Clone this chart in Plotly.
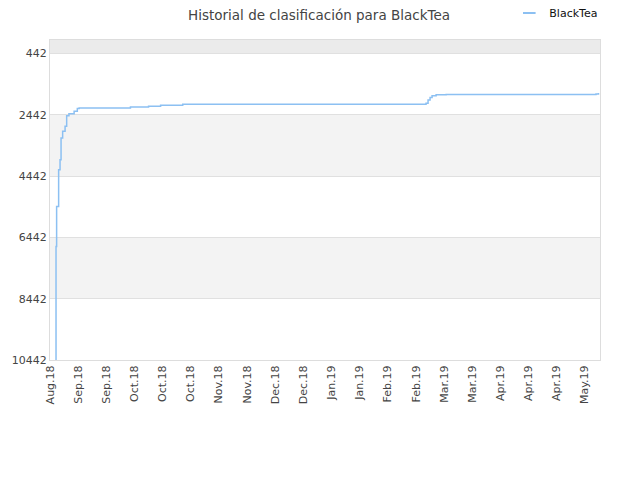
import plotly.graph_objects as go

# ---- data ----
dates = [
    "2018-08-22 22:00", "2018-08-23 00:00", "2018-08-23 07:00", "2018-08-24 07:00",
    "2018-08-25 00:00", "2018-08-25 12:00", "2018-08-26 07:00", "2018-08-27 12:00",
    "2018-08-28 07:00", "2018-08-29 10:00", "2018-09-01 00:00", "2018-09-02 14:00",
    "2018-09-03 12:00", "2018-09-29 00:00", "2018-10-08 00:00", "2018-10-14 00:00",
    "2018-10-25 00:00", "2019-02-23 00:00", "2019-02-24 00:00", "2019-02-25 00:00",
    "2019-02-26 00:00", "2019-02-28 00:00", "2019-03-05 00:00", "2019-03-10 00:00",
    "2019-05-18 12:00", "2019-05-19 18:00",
]
ranks = [
    10442, 6739, 5432, 4233,
    3906, 3197, 2981, 2818,
    2468, 2403, 2328, 2239,
    2223, 2190, 2160, 2130,
    2100, 2060, 1960, 1880,
    1820, 1790, 1780, 1775,
    1760, 1727,
]
series_name = "BlackTea"

tick_dates = [
    "2018-08-20", "2018-09-03", "2018-09-17", "2018-10-01", "2018-10-15",
    "2018-10-29", "2018-11-12", "2018-11-26", "2018-12-10", "2018-12-24",
    "2019-01-07", "2019-01-21", "2019-02-04", "2019-02-18", "2019-03-04",
    "2019-03-18", "2019-04-01", "2019-04-15", "2019-04-29", "2019-05-13",
]
tick_labels = [
    "Aug.18", "Sep.18", "Sep.18", "Oct.18", "Oct.18",
    "Oct.18", "Nov.18", "Nov.18", "Dec.18", "Dec.18",
    "Jan.19", "Jan.19", "Feb.19", "Feb.19", "Mar.19",
    "Mar.19", "Apr.19", "Apr.19", "Apr.19", "May.19",
]
y_ticks = [442, 2442, 4442, 6442, 8442, 10442]
band_edges = [0, 442, 2442, 4442, 6442, 8442, 10442]
band_colors = ["#ebebeb", "#ffffff", "#f3f3f3", "#ffffff", "#f3f3f3", "#ffffff"]

line_color = "#8cc0f2"

fig = go.Figure()
fig.add_trace(go.Scatter(
    x=dates, y=ranks, mode="lines", name=series_name, showlegend=False,
    line=dict(color=line_color, width=1.5, shape="hv"),
))
# legend entry with a short line symbol
fig.add_trace(go.Scatter(
    x=[None], y=[None], mode="markers", name=series_name,
    marker=dict(symbol="line-ew-open", size=9, color=line_color,
                line=dict(color=line_color, width=2)),
))

for i, c in enumerate(band_colors):
    fig.add_shape(type="rect", xref="paper", yref="y", x0=0, x1=1,
                  y0=band_edges[i], y1=band_edges[i + 1],
                  fillcolor=c, line_width=0, layer="below")

fig.update_layout(
    width=640, height=480,
    margin=dict(l=42, r=48, t=32, b=128, autoexpand=False),
    paper_bgcolor="white", plot_bgcolor="white",
    font=dict(family="DejaVu Sans", size=11, color="#444"),
    title=dict(text="Historial de clasificación para BlackTea", x=0.486, xanchor="center",
               xref="container", y=0.985, yanchor="middle",
               font=dict(size=13.5, color="#444")),
    showlegend=True,
    legend=dict(x=1.006, xanchor="right", y=1.084, yanchor="middle", itemwidth=30,
                font=dict(size=11, color="#111"), bgcolor="rgba(0,0,0,0)"),
    xaxis=dict(type="date", range=["2018-08-20", "2019-05-20 12:00"],
               tickvals=tick_dates, ticktext=tick_labels, tickangle=-90,
               showgrid=False, showline=True, linecolor="#dddddd", mirror=True,
               ticks="", zeroline=False, automargin=False),
    yaxis=dict(range=[10442, 0], tickvals=y_ticks,
               ticktext=[str(v) for v in y_ticks],
               showgrid=True, gridcolor="#e0e0e0", showline=True,
               linecolor="#dddddd", mirror=True, ticks="", zeroline=False,
               automargin=False),
)

fig.write_html("out.html")
